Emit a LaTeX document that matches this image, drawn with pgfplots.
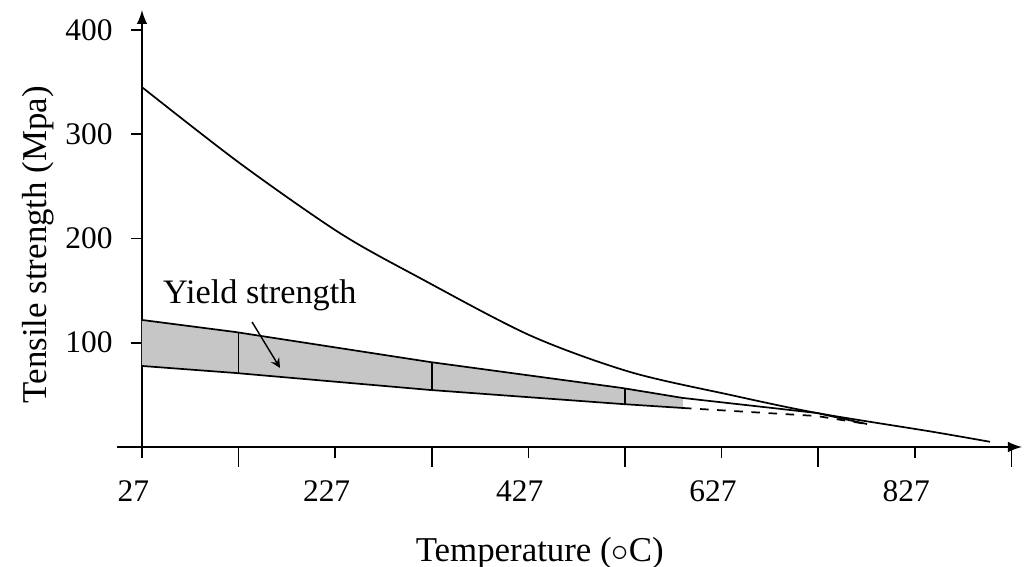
\documentclass[border=0pt]{standalone}
\usepackage{fontspec}
\setmainfont{Liberation Serif}
\usepackage{pgfplots}
\pgfplotsset{compat=1.18}
\usepgfplotslibrary{fillbetween}

\begin{document}
\begin{tikzpicture}
\begin{axis}[
    at={(0,0)}, anchor=south west,
    scale only axis, width=308pt, height=152.95pt,
    xmin=27, xmax=938, ymin=0, ymax=419,
    clip=false,
    axis x line=bottom, axis y line=left,
    x axis line style={-latex, shorten <=-8.75pt, line width=0.7pt},
    y axis line style={-latex, shorten <=-3.85pt, line width=0.7pt},
    tick align=outside,
    major tick length=3.8pt,
    tick style={black, line width=0.6pt},
    xtick={27,227,427,627,827},
    ytick={100,200,300,400},
    extra x ticks={127,327,527,727,927},
    extra x tick labels={},
    extra x tick style={major tick length=7pt},
    /pgf/number format/assume math mode=true,
    tick label style={font=\fontsize{11}{13}\selectfont},
    xticklabel style={yshift=-4.5pt, xshift=-3pt},
    yticklabel style={xshift=-3pt},
    xlabel={Temperature ($\circ$C)},
    ylabel={Tensile strength (Mpa)},
    xlabel style={at={(axis description cs:0.452,-0.242)}, anchor=center, font=\fontsize{12.2}{14}\selectfont},
    ylabel style={at={(axis description cs:-0.118,0.463)}, anchor=center, font=\fontsize{12.2}{14}\selectfont},
]
% yield strength band (filled part)
\addplot[name path=top, black, line width=0.6pt] coordinates {
    (27,121.8) (123.3,110.3) (325,81.5) (523.9,56.6) (587,47)};
\addplot[name path=bot, black, line width=0.6pt] coordinates {
    (27,77.7) (123.3,71) (325,54.7) (523.9,41.2) (587,37.4)};
\addplot[gray!45] fill between[of=top and bot];

% band edges beyond the shading
\addplot[black, line width=0.6pt] coordinates {
    (587,47) (725.7,32.6) (777.5,22)};
\addplot[black, line width=0.6pt, dashed] coordinates {
    (587,37.4) (725.7,29.7) (777.5,22)};

% tensile strength
\addplot[black, line width=0.6pt, smooth] coordinates {
    (27,345) (128.4,272) (232,205) (314.8,162) (428.7,107) (532,72)
    (635.7,50) (725.7,32.6) (842.7,15) (904.8,5)};

\addplot[black, line width=0.5pt] coordinates {(127,70.7) (127,109.8)};
\addplot[black, line width=0.5pt] coordinates {(327,54.5) (327,81.2)};
\addplot[black, line width=0.5pt] coordinates {(527,41.0) (527,56.2)};

\draw[-stealth, line width=0.5pt] (axis cs:140.9,119.9) -- (axis cs:169.9,75.8);
\node[font=\fontsize{12}{14}\selectfont] at (axis cs:149,145.8) {Yield strength};
\end{axis}
\pgfresetboundingbox
\path (-49.7pt,-42pt) rectangle (309.75pt,156.45pt);
\end{tikzpicture}
\end{document}
